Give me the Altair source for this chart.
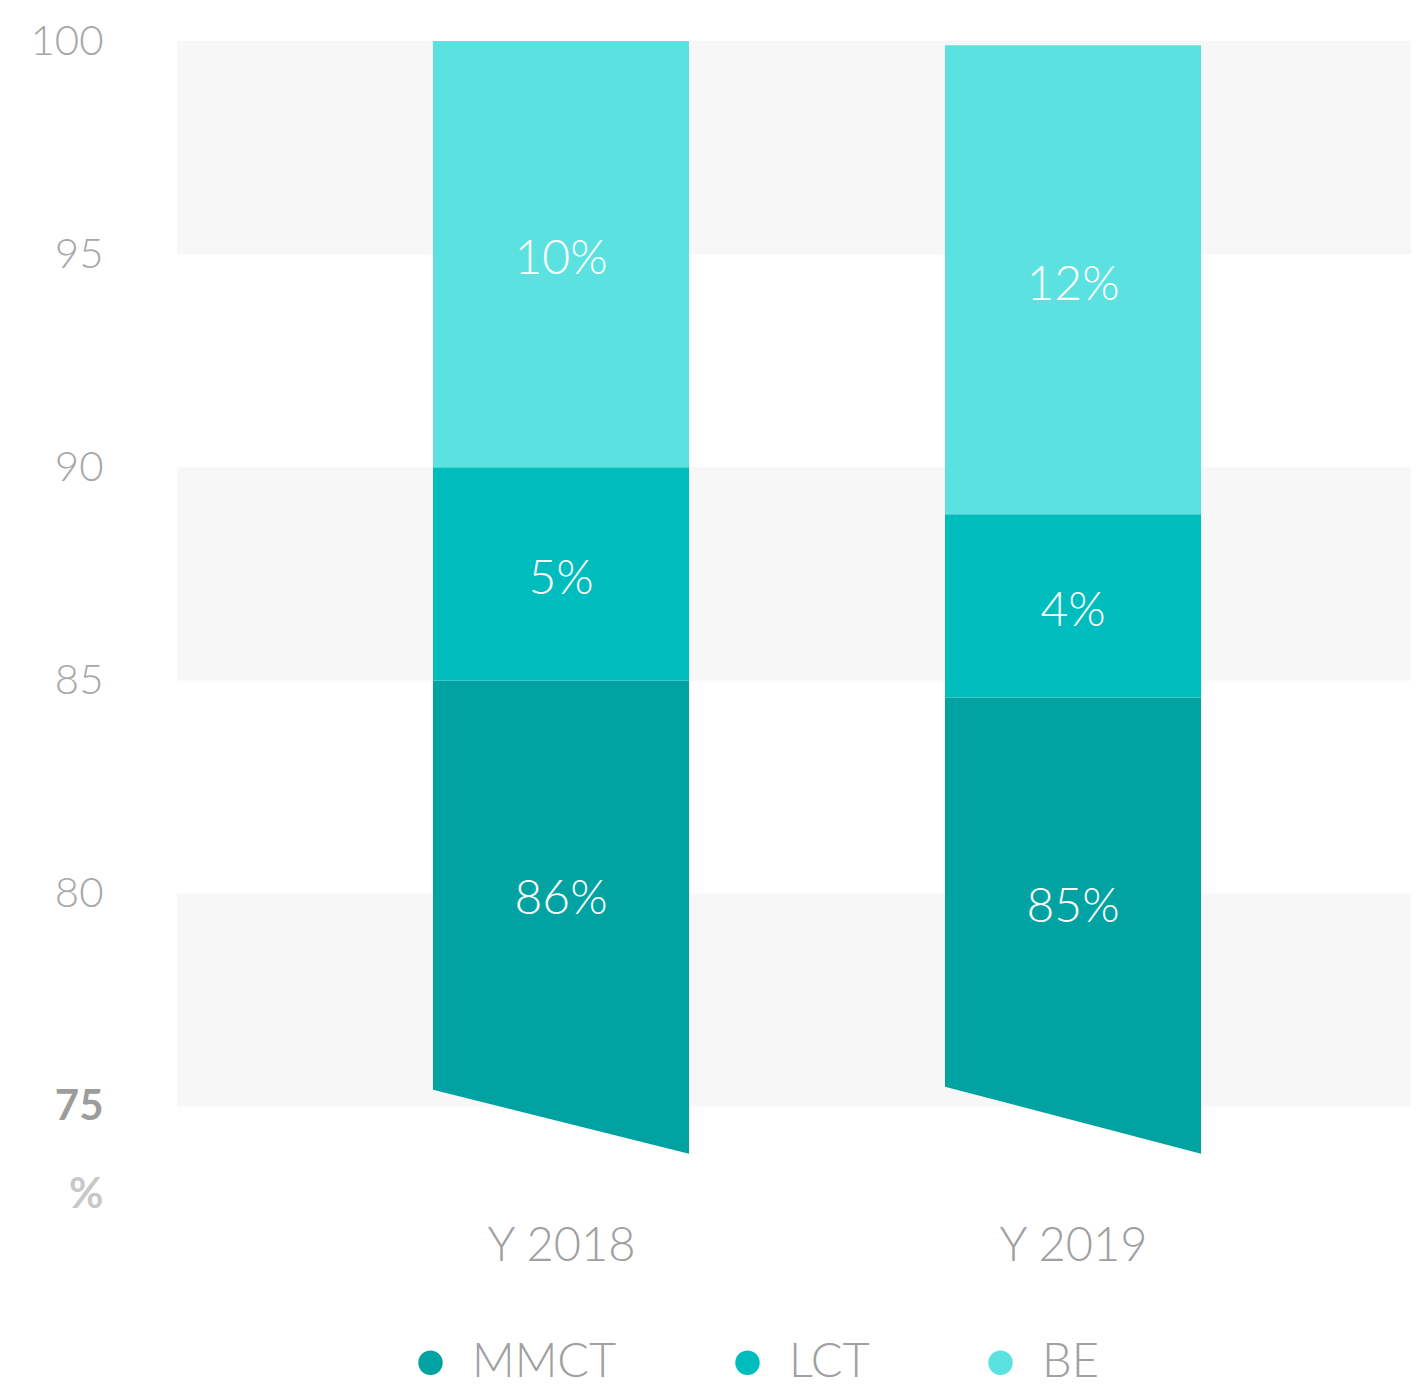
import altair as alt
import pandas as pd

# ---- data ----
years = ["Y 2018", "Y 2019"]
segments = ["MMCT", "LCT", "BE"]
colors = ["#00a3a1", "#00bdbd", "#5ce1e1"]
mmct = [85.0, 84.6]
lct = [5.0, 4.3]
be = [10.0, 11.0]
labels_mmct = ["86%", "85%"]
labels_lct = ["5%", "4%"]
labels_be = ["10%", "12%"]
cut_left = [75.4, 75.47]     # slanted "axis break" cut of the bottom segment
cut_right = [73.9, 73.9]
y_ticks = [75, 80, 85, 90, 95, 100]
band_starts = [75, 85, 95]
band_ends = [80, 90, 100]

FONT = "Lato"
HALF = 0.25
X_DOMAIN = [-0.75, -0.75 + 1234 / 512]
Y_DOMAIN = [73, 100]

# ---- tables ----
rect_rows, area_rows, label_rows = [], [], []
for i, yr in enumerate(years):
    b0 = mmct[i]
    b1 = mmct[i] + lct[i]
    b2 = b1 + be[i]
    rect_rows.append(dict(year=yr, seg="LCT", x0=i - HALF, x1=i + HALF, y0=b0, y1=b1))
    rect_rows.append(dict(year=yr, seg="BE", x0=i - HALF, x1=i + HALF, y0=b1, y1=b2))
    area_rows.append(dict(year=yr, seg="MMCT", x=i - HALF, ylo=cut_left[i], yhi=b0))
    area_rows.append(dict(year=yr, seg="MMCT", x=i + HALF, ylo=cut_right[i], yhi=b0))
    label_rows.append(dict(x=i, y=(75 + b0) / 2, t=labels_mmct[i]))
    label_rows.append(dict(x=i, y=(b0 + b1) / 2, t=labels_lct[i]))
    label_rows.append(dict(x=i, y=(b1 + b2) / 2, t=labels_be[i]))

rect_df = pd.DataFrame(rect_rows)
area_df = pd.DataFrame(area_rows)
label_df = pd.DataFrame(label_rows)
band_df = pd.DataFrame(dict(s=band_starts, e=band_ends,
                            xa=[X_DOMAIN[0]] * 3, xb=[X_DOMAIN[1]] * 3))

xscale = alt.Scale(domain=X_DOMAIN, nice=False, zero=False)
yscale = alt.Scale(domain=Y_DOMAIN, nice=False, zero=False)
cscale = alt.Scale(domain=segments, range=colors)

label_expr = "[" + ",".join(f"'{y}'" for y in years) + "][datum.value]"

x_axis = alt.Axis(values=[0, 1], labelExpr=label_expr, title=None, domain=False,
                  ticks=False, tickSize=0, grid=False, labelFont=FONT,
                  labelFontSize=47, labelFontWeight=300, labelColor="#a0a0a0",
                  labelBaseline="alphabetic", labelPadding=68)
y_axis = alt.Axis(values=y_ticks, title="%", titleAngle=0, titleAlign="right",
                  titleBaseline="middle", titleX=-74, titleY=1153,
                  titleFont=FONT, titleFontSize=42, titleFontWeight="bold",
                  titleColor="#c8c8c8", domain=False, ticks=False, tickSize=0,
                  grid=False, labelFont=FONT, labelFontSize=42,
                  labelFontWeight={"condition": {"test": "datum.value == 75", "value": "bold"}, "value": 300},
                  labelColor={"condition": {"test": "datum.value == 75", "value": "#9c9c9c"}, "value": "#a8a8a8"},
                  labelPadding=74, labelAlign="right", labelBaseline="middle")

bands = alt.Chart(band_df).mark_rect(color="#f7f7f7").encode(
    x=alt.X("xa:Q", scale=xscale, axis=x_axis),
    x2="xb:Q",
    y=alt.Y("s:Q", scale=yscale, axis=y_axis),
    y2="e:Q",
)

legend = alt.Legend(title=None, orient="none", legendX=230, legendY=1298,
                    direction="horizontal", symbolType="circle", symbolSize=600,
                    symbolStrokeWidth=0, symbolOpacity=1, labelFont=FONT,
                    labelFontSize=47, labelFontWeight=300, labelColor="#a0a0a0",
                    labelOffset=18, columnPadding=107)

area = alt.Chart(area_df).mark_area(opacity=1).encode(
    x=alt.X("x:Q", scale=xscale),
    y=alt.Y("ylo:Q", scale=yscale),
    y2="yhi:Q",
    detail="year:N",
    color=alt.Color("seg:N", scale=cscale, legend=legend),
)

rects = alt.Chart(rect_df).mark_rect(opacity=1).encode(
    x=alt.X("x0:Q", scale=xscale),
    x2="x1:Q",
    y=alt.Y("y0:Q", scale=yscale),
    y2="y1:Q",
    color=alt.Color("seg:N", scale=cscale, legend=legend),
)

texts = alt.Chart(label_df).mark_text(font=FONT, fontSize=48, fontWeight=300,
                                      color="white", align="center",
                                      baseline="middle", dy=6).encode(
    x=alt.X("x:Q", scale=xscale),
    y=alt.Y("y:Q", scale=yscale),
    text="t:N",
)

chart = alt.layer(bands, area, rects, texts).properties(
    width=1234, height=1151,
    padding={"left": 169, "top": 33, "right": 0, "bottom": 194},
    autosize=alt.AutoSizeParams(type="none"),
    background="white",
).configure_view(stroke=None)

chart.save("out.html", embed_options={"renderer": "svg", "actions": False})
